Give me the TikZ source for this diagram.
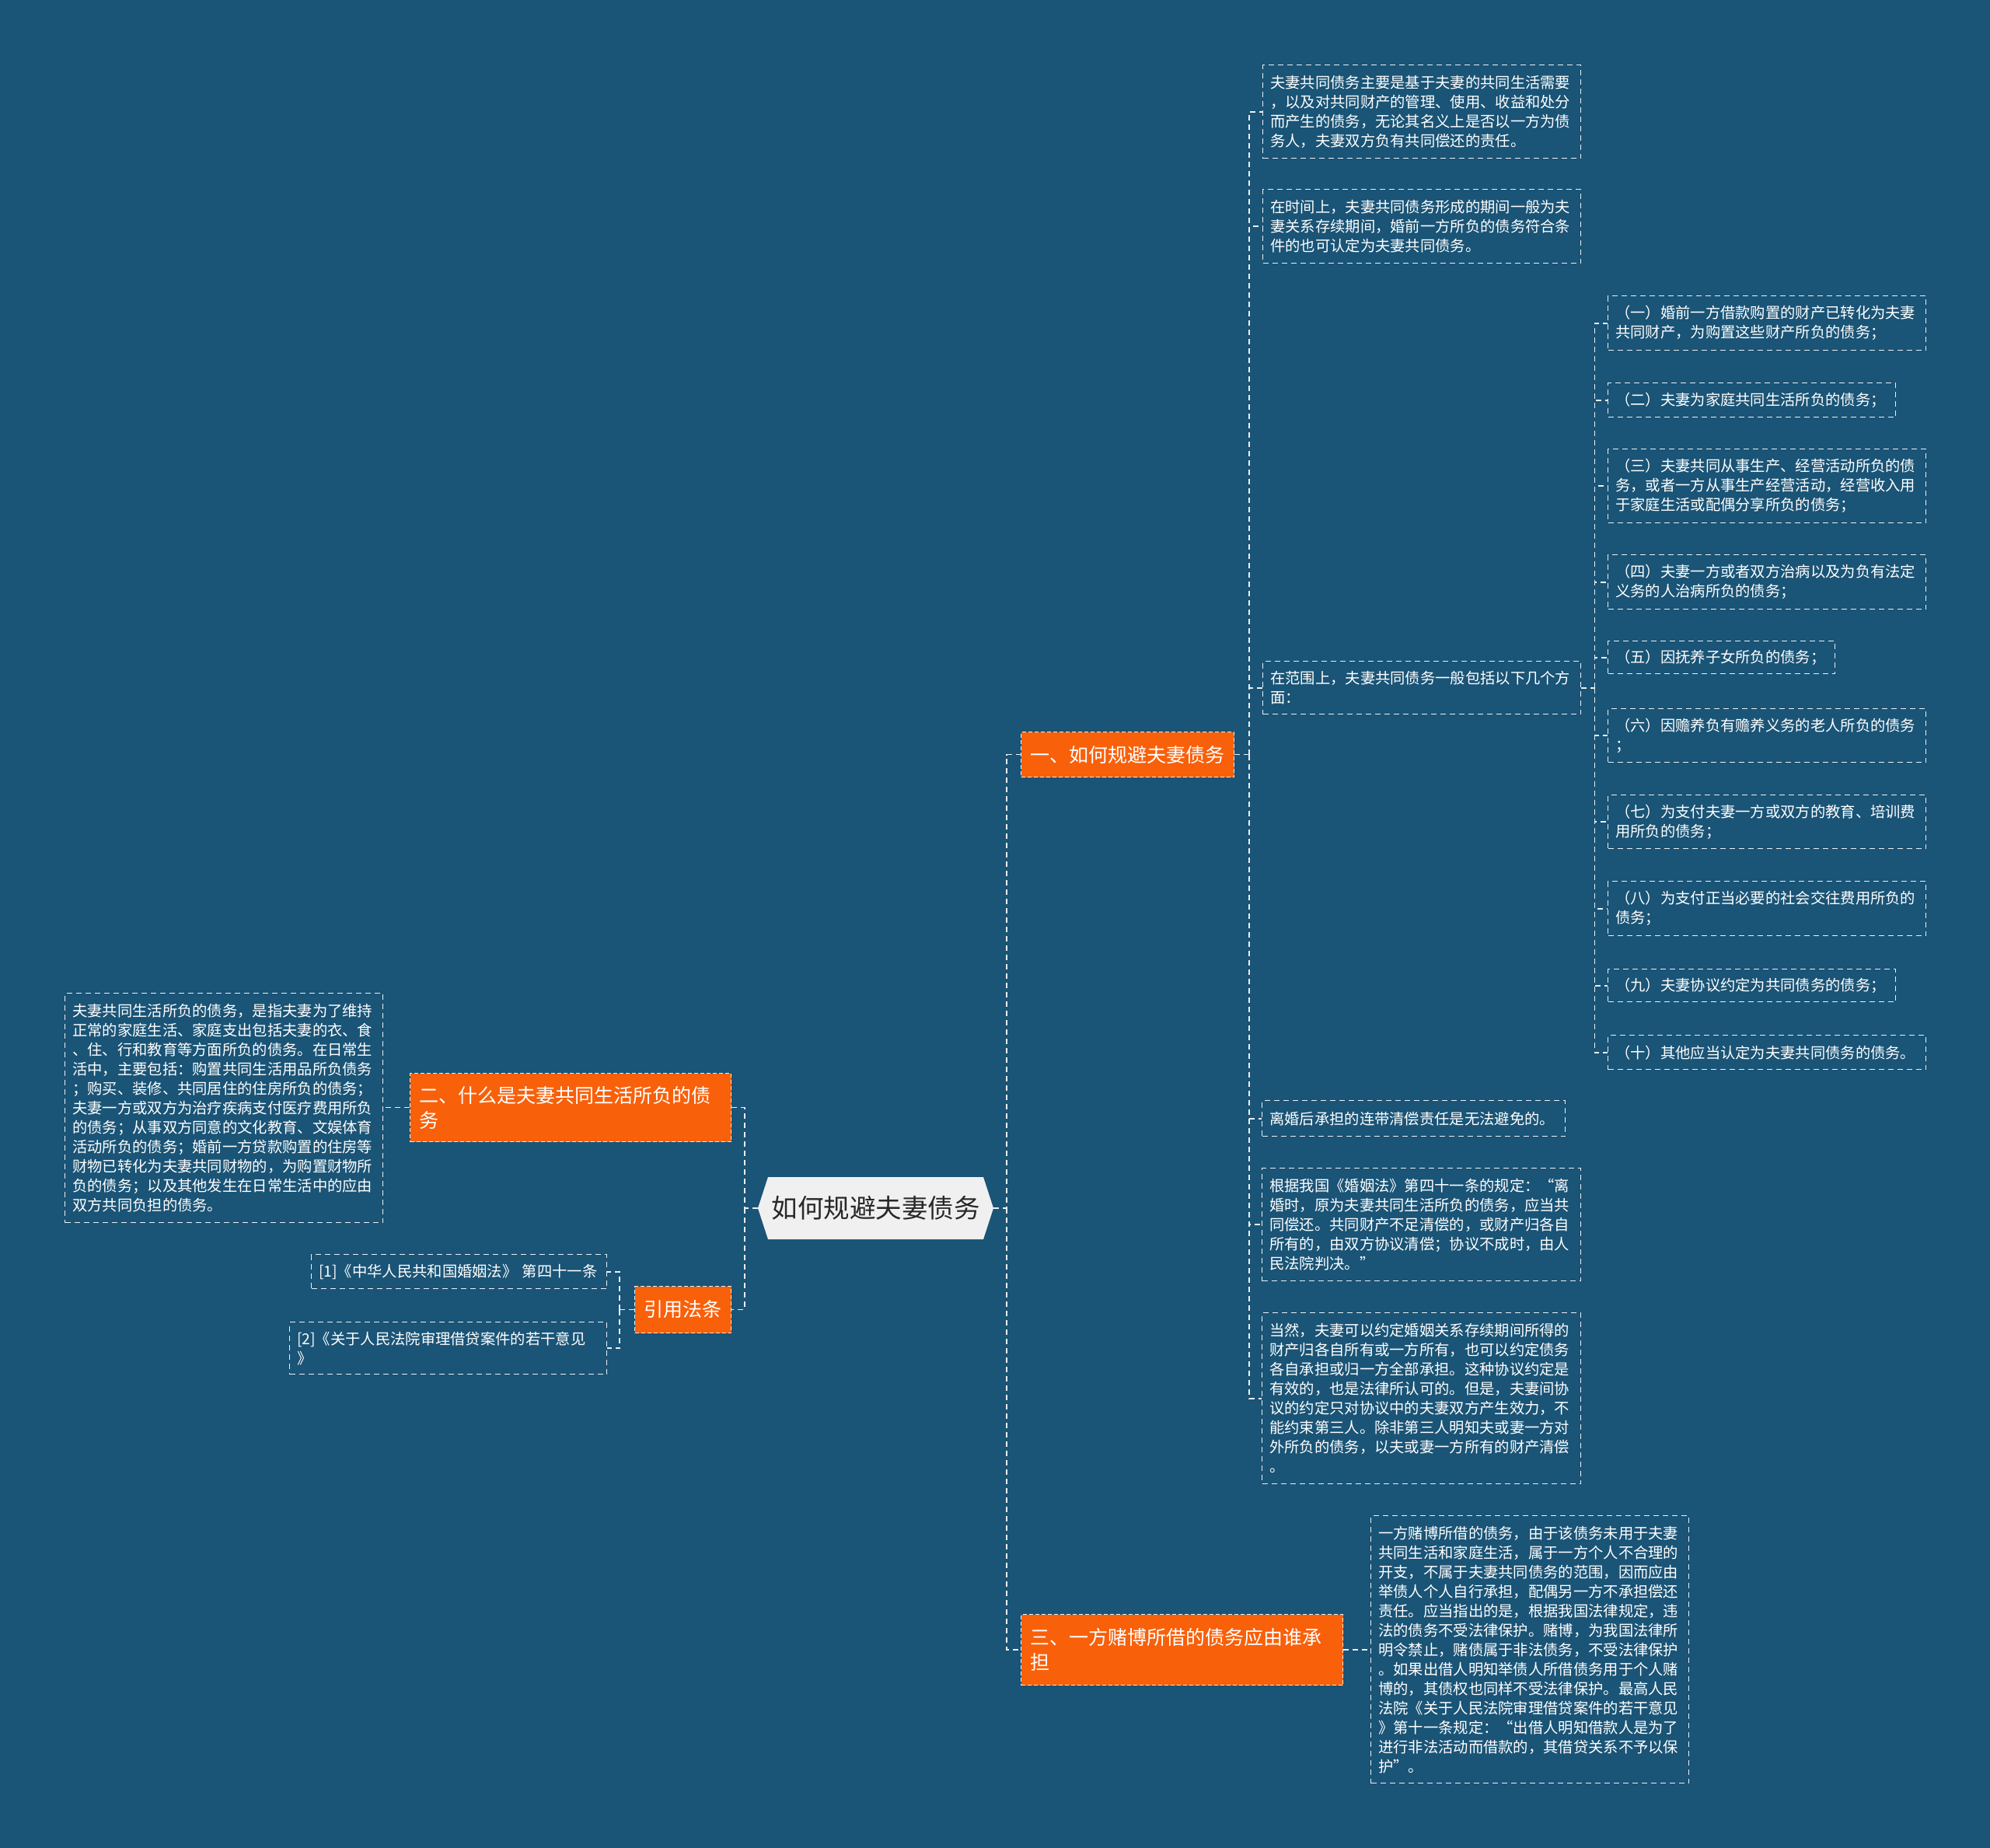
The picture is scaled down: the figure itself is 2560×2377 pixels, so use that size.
\documentclass[tikz,border=0pt]{standalone}
\usepackage{fontspec}
\setmainfont{Noto Sans CJK SC}
\usetikzlibrary{calc}
\definecolor{bg}{RGB}{26,84,118}
\definecolor{org}{RGB}{249,96,10}
\definecolor{rootfill}{RGB}{240,240,240}
\definecolor{roottext}{RGB}{40,40,40}
\definecolor{lnc}{RGB}{235,240,244}
\begin{document}
\begin{tikzpicture}[x=1pt,y=-1pt,
  leaf/.style={draw=lnc, line width=1.4pt, dash pattern=on 7pt off 5pt, text=white,
    font=\fontsize{19.3}{25}\selectfont, align=left, inner xsep=9.5pt, inner ysep=6pt, anchor=north west},
  orangebox/.style={fill=org, draw=lnc, line width=1pt, dash pattern=on 5pt off 3pt, text=white,
    font=\fontsize{25}{32}\selectfont, align=left, inner xsep=12pt, inner ysep=6pt, anchor=north west},
  rootst/.style={text=roottext, font=\fontsize{33.5}{38}\selectfont, inner sep=0pt,
    path picture={\fill[rootfill] (path picture bounding box.west) -- ([xshift=13pt]path picture bounding box.north west) -- ([xshift=-13pt]path picture bounding box.north east) -- (path picture bounding box.east) -- ([xshift=-13pt]path picture bounding box.south east) -- ([xshift=13pt]path picture bounding box.south west) -- cycle;}},
  conn/.style={draw=lnc, line width=1.6pt, dash pattern=on 7pt off 5pt}
]
\useasboundingbox (0,0) rectangle (2560,2377);
\fill[bg] (0,0) rectangle (2560,2377);

% root
\node[rootst, minimum width=303pt, minimum height=80pt] (root) at (1126.5,1554) {如何规避夫妻债务};

% main branches
\node[orangebox, minimum width=274pt, minimum height=58pt, align=center] (n1) at (1313,941) {一、如何规避夫妻债务};
\node[orangebox, text width=389pt, minimum height=88pt] (n2) at (527,1380) {二、什么是夫妻共同生活所负的债\\务};
\node[orangebox, text width=390pt, minimum height=91pt] (n3) at (1313,2076) {三、一方赌博所借的债务应由谁承\\担};
\node[orangebox, minimum width=124pt, minimum height=60pt, align=center] (cite) at (816,1654) {引用法条};

% branch 1 children
\node[leaf, text width=390pt, minimum height=120pt] (a) at (1624,83) {夫妻共同债务主要是基于夫妻的共同生活需要\\，以及对共同财产的管理、使用、收益和处分\\而产生的债务，无论其名义上是否以一方为债\\务人，夫妻双方负有共同偿还的责任。};
\node[leaf, text width=390pt, minimum height=95pt] (b) at (1624,243) {在时间上，夫妻共同债务形成的期间一般为夫\\妻关系存续期间，婚前一方所负的债务符合条\\件的也可认定为夫妻共同债务。};
\node[leaf, text width=390pt, minimum height=68pt] (c) at (1624,850) {在范围上，夫妻共同债务一般包括以下几个方\\面：};
\node[leaf, text width=371pt, minimum height=46pt] (d) at (1623,1415) {离婚后承担的连带清偿责任是无法避免的。};
\node[leaf, text width=391pt, minimum height=145pt] (e) at (1623,1502) {根据我国《婚姻法》第四十一条的规定：“离\\婚时，原为夫妻共同生活所负的债务，应当共\\同偿还。共同财产不足清偿的，或财产归各自\\所有的，由双方协议清偿；协议不成时，由人\\民法院判决。”};
\node[leaf, text width=391pt, minimum height=220pt] (f) at (1623,1688) {当然，夫妻可以约定婚姻关系存续期间所得的\\财产归各自所有或一方所有，也可以约定债务\\各自承担或归一方全部承担。这种协议约定是\\有效的，也是法律所认可的。但是，夫妻间协\\议的约定只对协议中的夫妻双方产生效力，不\\能约束第三人。除非第三人明知夫或妻一方对\\外所负的债务，以夫或妻一方所有的财产清偿\\。};

% scope items
\node[leaf, text width=390pt, minimum height=70pt] (k1) at (2068,380) {（一）婚前一方借款购置的财产已转化为夫妻\\共同财产，为购置这些财产所负的债务；};
\node[leaf, text width=351pt, minimum height=44pt] (k2) at (2068,492) {（二）夫妻为家庭共同生活所负的债务；};
\node[leaf, text width=390pt, minimum height=95pt] (k3) at (2068,577) {（三）夫妻共同从事生产、经营活动所负的债\\务，或者一方从事生产经营活动，经营收入用\\于家庭生活或配偶分享所负的债务；};
\node[leaf, text width=390pt, minimum height=70pt] (k4) at (2068,713) {（四）夫妻一方或者双方治病以及为负有法定\\义务的人治病所负的债务；};
\node[leaf, text width=273pt, minimum height=42pt] (k5) at (2068,824) {（五）因抚养子女所负的债务；};
\node[leaf, text width=390pt, minimum height=69pt] (k6) at (2068,911) {（六）因赡养负有赡养义务的老人所负的债务\\；};
\node[leaf, text width=390pt, minimum height=69pt] (k7) at (2068,1022) {（七）为支付夫妻一方或双方的教育、培训费\\用所负的债务；};
\node[leaf, text width=390pt, minimum height=70pt] (k8) at (2068,1133) {（八）为支付正当必要的社会交往费用所负的\\债务；};
\node[leaf, text width=351pt, minimum height=42pt] (k9) at (2068,1246) {（九）夫妻协议约定为共同债务的债务；};
\node[leaf, text width=390pt, minimum height=44pt] (k10) at (2068,1331) {（十）其他应当认定为夫妻共同债务的债务。};

% branch 3 child
\node[leaf, text width=390pt, minimum height=344pt] (g) at (1763,1949) {一方赌博所借的债务，由于该债务未用于夫妻\\共同生活和家庭生活，属于一方个人不合理的\\开支，不属于夫妻共同债务的范围，因而应由\\举债人个人自行承担，配偶另一方不承担偿还\\责任。应当指出的是，根据我国法律规定，违\\法的债务不受法律保护。赌博，为我国法律所\\明令禁止，赌债属于非法债务，不受法律保护\\。如果出借人明知举债人所借债务用于个人赌\\博的，其债权也同样不受法律保护。最高人民\\法院《关于人民法院审理借贷案件的若干意见\\》第十一条规定：“出借人明知借款人是为了\\进行非法活动而借款的，其借贷关系不予以保\\护”。};

% branch 2 child
\node[leaf, text width=390pt, minimum height=295pt] (h) at (83,1277) {夫妻共同生活所负的债务，是指夫妻为了维持\\正常的家庭生活、家庭支出包括夫妻的衣、食\\、住、行和教育等方面所负的债务。在日常生\\活中，主要包括：购置共同生活用品所负债务\\；购买、装修、共同居住的住房所负的债务；\\夫妻一方或双方为治疗疾病支付医疗费用所负\\的债务；从事双方同意的文化教育、文娱体育\\活动所负的债务；婚前一方贷款购置的住房等\\财物已转化为夫妻共同财物的，为购置财物所\\负的债务；以及其他发生在日常生活中的应由\\双方共同负担的债务。};

% citations
\node[leaf, text width=361pt, minimum height=44pt] (r1) at (400,1613) {[1]《中华人民共和国婚姻法》 第四十一条};
\node[leaf, text width=389pt, minimum height=67pt] (r2) at (372,1700) {[2]《关于人民法院审理借贷案件的若干意见\\》};

% connectors
\coordinate (rt) at ($(root.east)+(17,0)$);
\draw[conn] (root.east) -- (rt) |- (n1.west);
\draw[conn] (rt) |- (n3.west);
\coordinate (lt) at ($(root.west)+(-17,0)$);
\draw[conn] (root.west) -- (lt) |- (n2.east);
\draw[conn] (lt) |- (cite.east);

\coordinate (n1t) at ($(n1.east)+(19,0)$);
\draw[conn] (n1.east) -- (n1t);
\foreach \t in {a,b,c,d,e,f} \draw[conn] (n1t) |- (\t.west);

\coordinate (ct) at ($(c.east)+(17,0)$);
\draw[conn] (c.east) -- (ct);
\foreach \t in {k1,k2,k3,k4,k5,k6,k7,k8,k9,k10} \draw[conn] (ct) |- (\t.west);

\draw[conn] (n3.east) -- (n3.east -| g.west);
\draw[conn] (n2.west) -- (n2.west -| h.east);

\coordinate (cxt) at ($(cite.west)+(-19,0)$);
\draw[conn] (cite.west) -- (cxt);
\draw[conn] (cxt) |- (r1.east);
\draw[conn] (cxt) |- (r2.east);
\end{tikzpicture}
\end{document}
